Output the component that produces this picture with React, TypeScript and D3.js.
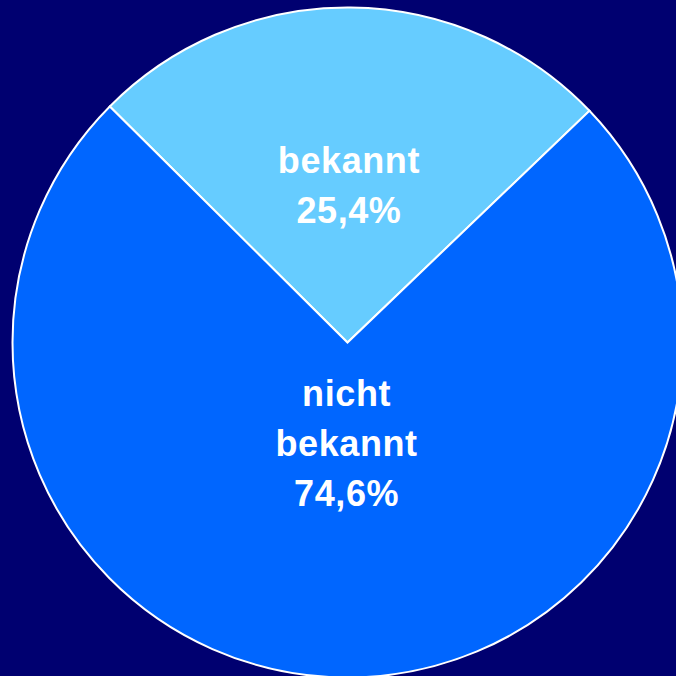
import React from "react";
import * as d3 from "d3";

// Anteile
const labels = [["bekannt"], ["nicht", "bekannt"]];
const values = [25.4, 74.6];
const colors = ["#66CCFF", "#0066FF"];

const W = 676;
const H = 676;
const cx = 347.5;
const cy = 342.5;
const R = 335;
const startDeg = -45.2;
const lineH = 50;
const labelR = [0.47, 0.3]; // Abstand der Beschriftung vom Mittelpunkt, Anteil vom Radius

export default function App() {
  const start = (startDeg * Math.PI) / 180;
  const pie = d3
    .pie<number>()
    .sort(null)
    .value((d) => d)
    .startAngle(start)
    .endAngle(start + 2 * Math.PI);
  const arcs = pie(values);
  const arc = d3.arc<d3.PieArcDatum<number>>().innerRadius(0).outerRadius(R);

  return (
    <svg
      width={W}
      height={H}
      style={{ position: "fixed", left: 0, top: 0, background: "#000070" }}
    >
      <g transform={`translate(${cx},${cy})`}>
        {arcs.map((a, i) => (
          <path key={i} d={arc(a) || ""} fill={colors[i]} stroke="#fff" strokeWidth={2} />
        ))}
        {arcs.map((a, i) => {
          const mid = (a.startAngle + a.endAngle) / 2;
          const r = R * labelR[i];
          const x = Math.sin(mid) * r;
          const y = -Math.cos(mid) * r;
          const lines = [...labels[i], values[i].toFixed(1).replace(".", ",") + "%"];
          const y0 = y - ((lines.length - 1) * lineH) / 2;
          return (
            <text
              key={"t" + i}
              x={x}
              textAnchor="middle"
              fill="#fff"
              fontFamily="Liberation Sans, Arial, sans-serif"
              fontWeight="bold"
              fontSize={36}
              letterSpacing={0.6}
            >
              {lines.map((l, j) => (
                <tspan key={j} x={x} y={y0 + j * lineH} dy="0.35em">
                  {l}
                </tspan>
              ))}
            </text>
          );
        })}
      </g>
    </svg>
  );
}
